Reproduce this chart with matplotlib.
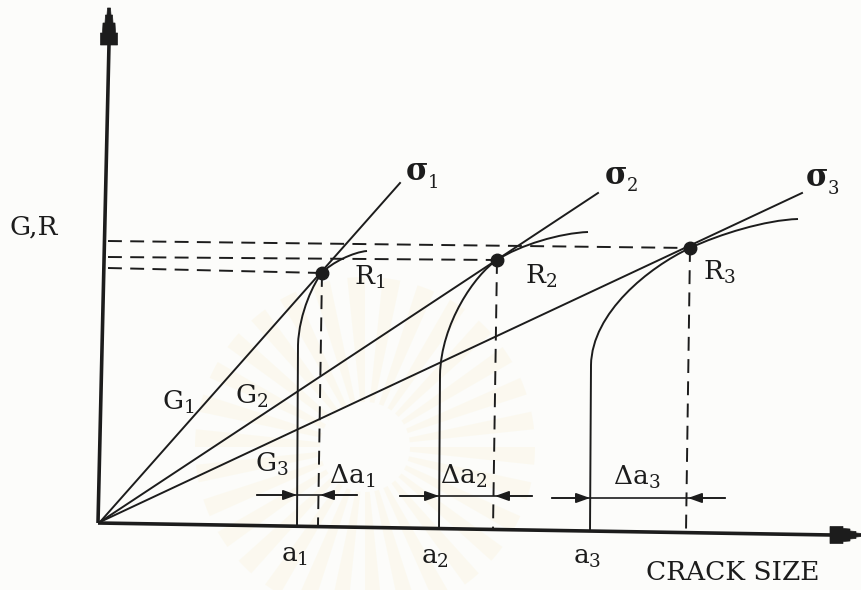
"""R-curve diagram: crack driving force G versus crack resistance R."""

import matplotlib

matplotlib.use("Agg")
import matplotlib.pyplot as plt
import numpy as np
from matplotlib.patches import Polygon, Wedge, PathPatch
from matplotlib.path import Path

plt.rcParams["font.family"] = ["DejaVu Serif"]
plt.rcParams["mathtext.fontset"] = "dejavuserif"
plt.rcParams["lines.scale_dashes"] = False

INK = "#1c1c1c"

# drawing units = pixels, y downwards
origin = (100, 522)
g_line_ends = [(400, 183), (598, 193), (802, 193)]          # sigma_1..3
r_points = [(322, 273), (497, 260), (690, 248)]             # R_1..3
a_pos = [297, 439, 590]                                      # a_1..3 on the axis
a_axis_y = [525, 528, 531]
r_turn_y = [345, 375, 365]                                   # where the R-curves leave the vertical
r_curve_ends = [(367, 251), (588, 232), (798, 219)]
dash_axis_x = [318, 493, 686]
dash_axis_y = [525, 529, 532]
level_y = [268, 257, 241]                                    # horizontal dashed levels at the G axis
level_x0 = [108, 108, 108]
delta_y = [495, 496, 498]
delta_left = [257, 400, 552]
delta_right = [357, 532, 725]

fig = plt.figure(figsize=(8.62, 5.90), dpi=100)
fig.patch.set_facecolor("#fcfcfa")
ax = fig.add_axes([0, 0, 1, 1])
ax.set_xlim(0, 862)
ax.set_ylim(590, 0)
ax.axis("off")

# faint seal in the background
for ang in np.arange(0, 360, 12):
    ax.add_patch(Wedge((365, 447), 170, ang, ang + 6, width=125,
                       facecolor="#f6e9b8", edgecolor="none", alpha=0.16, zorder=0))

# axes with stepped arrowheads
ax.plot([98, 109], [523, 44], color=INK, lw=2.6, solid_capstyle="butt")
ax.plot([98, 832], [523, 535], color=INK, lw=2.6, solid_capstyle="butt")
top = [(-1.5, 8), (-2, 15), (-3.5, 15), (-4, 23), (-6, 23), (-6.5, 33), (-8.5, 33), (-8.5, 45)]
top = [(109 + dx, y) for dx, y in top] + [(109 - dx, y) for dx, y in reversed(top)]
ax.add_patch(Polygon(top, closed=True, facecolor=INK, edgecolor=INK, lw=0.5))
right = [(830, 8.5), (843, 8.5), (843, 6.5), (850, 6), (850, 4), (856, 3.5), (856, 2), (862, 1.5)]
right = [(x, 535 - dy) for x, dy in right] + [(x, 535 + dy) for x, dy in reversed(right)]
ax.add_patch(Polygon(right, closed=True, facecolor=INK, edgecolor=INK, lw=0.5))

# G lines from the origin
for end in g_line_ends:
    ax.plot([origin[0], end[0]], [origin[1], end[1]], color=INK, lw=1.4)

# R-curves: vertical start, then bend through the tangency point
for i in range(3):
    ox, oy = origin
    gx, gy = g_line_ends[i]
    d = np.array([gx - ox, gy - oy], dtype=float)
    d /= np.hypot(*d)
    rx, ry = r_points[i]
    ex, ey = r_curve_ends[i]
    a, ty = a_pos[i], r_turn_y[i]
    k1 = (ty - ry) * 0.45
    k2 = (rx - a) * 0.45
    k3 = (ex - rx) * 0.3
    verts = [
        (a, a_axis_y[i]), (a + 1, ty),
        (a + 2, ty - k1), (rx - k2 * d[0], ry - k2 * d[1]), (rx, ry),
        (rx + k3 * d[0], ry + k3 * d[1]), (ex - k3, ey + 1), (ex, ey),
    ]
    codes = [Path.MOVETO, Path.LINETO] + [Path.CURVE4] * 6
    ax.add_patch(PathPatch(Path(verts, codes), facecolor="none", edgecolor=INK, lw=1.4))

# dashed construction lines
dash = (0, (10, 6))
for i in range(3):
    rx, ry = r_points[i]
    ax.plot([level_x0[i], rx], [level_y[i], ry], color=INK, lw=1.4, linestyle=dash)
    ax.plot([rx, dash_axis_x[i]], [ry, dash_axis_y[i]], color=INK, lw=1.4, linestyle=dash)

xs, ys = zip(*r_points)
ax.plot(xs, ys, "o", color=INK, markersize=9, zorder=5)

# delta-a dimension arrows
arrow = dict(arrowstyle="-|>,head_length=0.7,head_width=0.25", color=INK, lw=1.2,
             shrinkA=0, shrinkB=0, mutation_scale=12)
for i in range(3):
    y = delta_y[i]
    ax.plot([delta_left[i], delta_right[i]], [y, y], color=INK, lw=1.2)
    ax.annotate("", xy=(a_pos[i], y), xytext=(delta_left[i], y), arrowprops=arrow)
    ax.annotate("", xy=(dash_axis_x[i] + 2, y), xytext=(delta_right[i], y), arrowprops=arrow)

# labels
txt = dict(color=INK, fontsize=19, ha="left", va="center")
ax.text(10, 227, "G,R", **txt)
ax.text(646, 573, "CRACK SIZE", **dict(txt, fontsize=19))

sigma_xy = [(406, 172), (605, 175), (806, 178)]
for i, (x, y) in enumerate(sigma_xy):
    ax.text(x, y, "σ", color=INK, fontsize=22, fontweight="bold", ha="left", va="center")
    ax.text(x + 22, y + 11, str(i + 1), color=INK, fontsize=13, ha="left", va="center")

r_lab = [(354, 277), (525, 276), (703, 272)]
for i, (x, y) in enumerate(r_lab):
    ax.text(x, y, f"R$_{i + 1}$", **txt)

g_lab = [(162, 402), (235, 396), (255, 464)]
for i, (x, y) in enumerate(g_lab):
    ax.text(x, y, f"G$_{i + 1}$", **txt)

d_lab = [(329, 476), (440, 476), (613, 477)]
for i, (x, y) in enumerate(d_lab):
    ax.text(x, y, f"Δa$_{i + 1}$", **txt)

a_lab = [(281, 555), (421, 557), (573, 557)]
for i, (x, y) in enumerate(a_lab):
    ax.text(x, y, f"a$_{i + 1}$", **txt)

fig.savefig("out.png", dpi=100, facecolor=fig.get_facecolor())
